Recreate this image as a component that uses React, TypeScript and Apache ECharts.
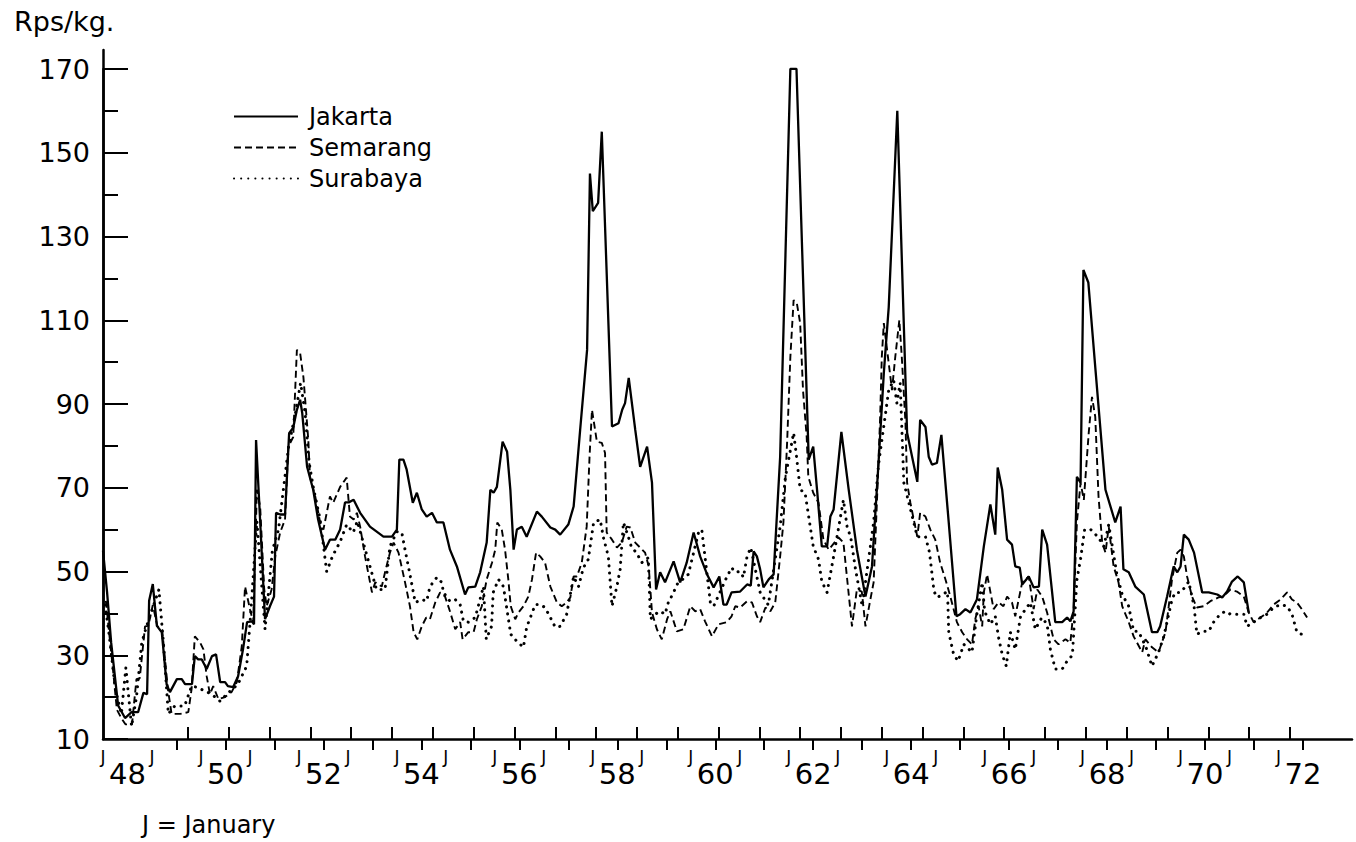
import React, { useEffect, useRef } from "react";
import * as echarts from "echarts";

// x = months since January 1948, y = Rps/kg.
const jakarta: [number, number][] = [
  [0, 55], [1, 45], [2, 33], [3.7, 18], [5.4, 15], [7, 16.4], [8.6, 16.4], [9.9, 21], [10.8, 20.7], [11.3, 43], [12.2, 47],
  [13.2, 37], [14.4, 35.5], [15.6, 23], [16.4, 21.2], [18.1, 24.3], [19.3, 24.3], [20.1, 23.1], [21.8, 23.1], [22.5, 29.8],
  [23.3, 29], [24.2, 29], [25.4, 26.7], [26.7, 29.8], [27.7, 30.2], [28.7, 23.6], [29.9, 23.6], [30.6, 22.6], [31.9, 22.4],
  [33.1, 25], [34.3, 31.4], [35.3, 37.9], [36.5, 38.1], [37, 37.4], [37.5, 81.4], [38.2, 67.9], [39.7, 38.6], [40.9, 41.7],
  [41.9, 44], [42.4, 64], [43.4, 63.6], [44.6, 63.6], [45.6, 83], [46.6, 84.3], [47.5, 88.6], [48.3, 91], [48.8, 87.9],
  [50, 75], [51.5, 69.5], [52.7, 62.4], [54.4, 55.2], [55.6, 57.6], [56.9, 57.6], [58.1, 60], [59.3, 66.5], [60.2, 66.5],
  [61.4, 67.1], [63, 64], [65.4, 60.7], [68.7, 58.3], [70.8, 58.3], [72, 60], [72.6, 76.7], [73.6, 76.7], [74.4, 74.3],
  [75.9, 66.4], [76.9, 68.8], [78.1, 64.8], [79.3, 63.1], [80.6, 64], [81.8, 61.7], [83.4, 61.7], [85, 55.2], [86.7, 51.2],
  [88.7, 44.5], [89.5, 46.2], [91.2, 46.4], [92.4, 49.8], [94, 56.9], [94.9, 69.5], [95.7, 68.8], [96.5, 70.2], [97.9, 81],
  [99, 78.6], [99.8, 69.5], [100.6, 55.2], [101.4, 60], [102.6, 60.7], [103.8, 58.3], [106.3, 64.3], [107.5, 63.1],
  [109.6, 60.5], [110.8, 60], [112, 58.8], [114, 61.2], [115.3, 65.5], [116.9, 83.8], [118.6, 102.9], [119.3, 145],
  [120, 136], [121.3, 138], [122.2, 155], [124.7, 84.6], [126.3, 85.4], [127.2, 88.6], [127.9, 90.2], [128.8, 96.2],
  [130.4, 83.8], [131.6, 75], [133.3, 79.8], [134.5, 71.2], [135.5, 45.7], [136.5, 49.8], [137.7, 47.4], [139.8, 52.4],
  [141.4, 47.4], [143, 52.1], [144.7, 59.3], [146.3, 53.6], [148, 49.3], [149.6, 46.2], [151, 48.8], [152, 42.1],
  [152.8, 42.1], [154, 45], [156.1, 45.2], [157.8, 46.9], [158.7, 46.6], [159.4, 54.8], [160.2, 53.6], [161, 50.5],
  [161.8, 46.2], [163.1, 48.1], [164.3, 49.3], [165.9, 77.4], [168.4, 170], [169.9, 170], [172.9, 76.7], [174, 79.8],
  [175, 68.8], [176.1, 56], [177.4, 56], [178.2, 63.1], [179, 64.8], [180.9, 83.3], [182.7, 69.5], [184.7, 55.2],
  [186.8, 44], [188.4, 51.2], [190, 75.9], [191.3, 97.4], [192.5, 113.1], [194.6, 160], [197, 83.1], [199.5, 71.4],
  [200.2, 86.2], [201.5, 84.5], [202.3, 77.4], [203.1, 75.5], [204.3, 75.9], [205.4, 82.6], [207.2, 61.7], [209.1, 39.3],
  [210, 39.8], [211.3, 41], [212.5, 40.2], [214.1, 43.3], [215.8, 56], [217.4, 66], [218.6, 58.8], [219.2, 74.8],
  [220.3, 69.5], [221.5, 57.6], [222.7, 56.4], [223.5, 51.2], [224.6, 50.9], [225.2, 46.9], [226.8, 48.8], [228, 46.2],
  [229.3, 46.4], [230.1, 60], [231.3, 56.4], [233.3, 37.9], [235, 37.9], [236.2, 39], [237, 38.1], [237.8, 40.5],
  [238.6, 72.6], [239.5, 71.2], [240.2, 122], [241.4, 119], [243.1, 98.8], [245.6, 69.5], [248, 61.7], [249.3, 65.5],
  [250, 50.5], [251.3, 49.8], [252.9, 46.4], [255, 44.5], [257, 35.5], [258.3, 35.5], [259, 36.9], [260.7, 44],
  [262.3, 51.2], [263.2, 49.8], [264, 51.2], [264.8, 58.8], [266, 57.6], [267.3, 54.5], [269.3, 45], [270.9, 45],
  [273, 44.5], [274.2, 43.8], [275.4, 45.2], [276.6, 47.6], [278, 48.8], [279.5, 47.4], [280.7, 40.2],
];

const semarang: [number, number][] = [
  [0.7, 43], [2.5, 26], [3.4, 17], [4.6, 14.8], [5.5, 13.5], [7.1, 13.5], [8.2, 24.3], [9, 24.5], [10.3, 36.9], [11.1, 37],
  [12.2, 42], [13.3, 37], [14.5, 36], [15.9, 21.9], [16.8, 16], [18.9, 16], [20.9, 16.4], [21.7, 21.9], [22.5, 34.5],
  [23.8, 33], [24.6, 31.4], [25.4, 25], [26.2, 20.7], [27, 22.6], [28.3, 19.5], [29.9, 20], [31.5, 21.2], [32.8, 23.6],
  [34, 32.1], [34.8, 46.4], [36, 41], [36.8, 37.9], [37.7, 69.5], [38.5, 65.5], [39.5, 45.7], [40.1, 41.7], [41.3, 45.7],
  [42.2, 53.6], [43.4, 59.3], [44.6, 62.4], [45.4, 79.8], [46.6, 82.1], [47.5, 102.9], [48.3, 102.1], [49.1, 96.4],
  [50.3, 81.4], [50.7, 72.6], [52, 67.9], [53.2, 61.7], [54, 60], [55.6, 67.9], [56.4, 66.4], [58.1, 70.2], [59.7, 72.4],
  [60.5, 63.1], [61.4, 62.4], [62.2, 64], [63, 60.7], [64.2, 53.6], [65.9, 45], [66.7, 47.4], [68.3, 46.4], [69.1, 49.8],
  [70.3, 54.5], [71.2, 56.9], [72.4, 54.5], [74, 47.4], [75.2, 41.7], [76.1, 35.5], [77, 33.8], [78.1, 36.9], [79.2, 39],
  [80.1, 38.6], [81.4, 42.6], [82.6, 45], [83.8, 44], [85, 40.5], [86.3, 36.2], [87.5, 37.9], [88.1, 33.8], [89.5, 35.5],
  [90.8, 35.5], [91.6, 38.6], [92.8, 41.7], [94, 48.1], [95.3, 52.1], [96.1, 55.2], [96.6, 61.7], [97.7, 60], [98.5, 55.2],
  [99.3, 48.1], [99.9, 41.7], [101, 38.6], [101.8, 40.2], [103, 41.7], [104.2, 44], [105.1, 48.1], [106.1, 54.5],
  [107.1, 53.6], [108.3, 52.1], [109.6, 46.4], [111.2, 42.6], [112.4, 41.7], [113.6, 42.6], [114.5, 43.8], [115.3, 48.8],
  [116.1, 48.8], [117.3, 52.1], [118.5, 60.7], [119.2, 77.4], [119.8, 88.6], [121, 81], [122.2, 80.7], [123, 78.3],
  [123.4, 59.3], [124.7, 57.6], [125.9, 55.7], [127.1, 56.9], [128.3, 60.7], [129.2, 60.5], [130.4, 56.9], [131.6, 55.7],
  [132.8, 54.5], [133.7, 51.2], [134.5, 40.2], [135.7, 36.2], [136.9, 33.8], [138.2, 38.6], [139, 40.5], [140.6, 35.7],
  [142.2, 36.2], [143.9, 41.7], [145.1, 40.5], [146.3, 41], [147.5, 38.1], [149.2, 34.5], [150.8, 37.4], [152.8, 37.9],
  [154, 39.3], [154.9, 41.7], [156.1, 41.4], [157.8, 42.9], [159, 42.6], [160.2, 39.3], [161, 37.9], [162.3, 41.4],
  [163.5, 40.5], [164.7, 42.6], [165.9, 53.6], [166.7, 61.7], [167.6, 80.7], [168.4, 101.2], [169.2, 114.8], [170, 114],
  [170.8, 109.3], [171.5, 93.3], [172.4, 82.1], [172.8, 72.6], [174, 68.8], [175.3, 66.4], [176.5, 57.6], [177.8, 55.2],
  [180.2, 58.1], [181.4, 56.9], [183.5, 36.9], [184.7, 45.7], [185.9, 45.2], [186.8, 36.9], [188, 43.3], [188.8, 47.4],
  [189.6, 66.4], [190.4, 86.9], [190.8, 101.2], [191.3, 109.3], [193.3, 93.3], [194.1, 101.2], [195.1, 110], [195.7, 101.2],
  [196.6, 85.5], [197, 71.2], [197.8, 66.4], [199.5, 58.3], [200.2, 64], [201.5, 63.1], [202.7, 60], [203.9, 57.6],
  [205.1, 52.1], [206.4, 48.1], [207.6, 44], [208.4, 41], [209.2, 37.9], [210.5, 35.5], [211.7, 33.8], [212.9, 32.6],
  [213.7, 38.6], [214.5, 41.7], [215.4, 36.9], [215.8, 45], [216.6, 49.3], [218.2, 41], [219.4, 42.6], [220.6, 41.7],
  [221.5, 44], [222.7, 42.6], [223.5, 39.3], [225.2, 47.4], [226.8, 48.8], [228, 41], [228.9, 45.7], [230.1, 44],
  [231.3, 40.2], [232.9, 33.8], [234.1, 32.6], [235.8, 33.8], [237, 33], [237.8, 41], [238.6, 61.7], [239.5, 71.2],
  [240.3, 67.1], [241.5, 83.1], [242.3, 91.7], [243.1, 86.9], [243.9, 67.9], [244.8, 56.9], [245.6, 54.5], [246.4, 60.7],
  [247.6, 51.2], [248.8, 47.4], [249.7, 41.7], [251.3, 37.9], [252.5, 34.5], [254.6, 30.7], [255.4, 33.8], [257, 31.9],
  [258.6, 30.7], [260.3, 35.5], [261.1, 41.7], [261.9, 48.1], [263.2, 54.5], [264, 55.2], [264.8, 53.6], [265.6, 48.8],
  [266.8, 44], [268, 41.4], [269.7, 41.7], [271.3, 42.9], [273.3, 43.8], [274.5, 44], [276.2, 45.7], [277.8, 45.2],
  [279.5, 44], [280.7, 40.2], [281.9, 37.9], [283.6, 39], [285.2, 40.2], [286.8, 42.1], [288.5, 43.3], [290.1, 45],
  [291.3, 43.3], [292.5, 42.6], [293.7, 41], [295, 39],
];

const surabaya: [number, number][] = [
  [0.5, 42], [1.5, 35], [3, 22], [4.5, 16], [5.6, 27], [7, 13], [8.2, 20], [9.5, 33], [10.7, 37], [13.7, 45.7], [14.8, 33],
  [16, 16], [17.6, 17.9], [20, 17.9], [21.7, 22.6], [22.9, 22.4], [26.6, 20.7], [28.7, 19], [30.3, 20.7], [33, 23],
  [34, 25], [35.2, 27.4], [36.2, 40], [37.7, 62], [39.7, 36.2], [41.5, 55], [43, 60], [45.5, 80], [47.2, 88], [48.4, 95],
  [49.5, 88], [50.5, 76], [51.5, 70.2], [53.2, 62.4], [54.8, 50], [56.3, 53.8], [58.1, 57.1], [59.7, 61.2], [61.3, 59.3],
  [62.3, 62], [63.7, 57.1], [67, 45.7], [69.1, 45.7], [70.3, 56], [72, 59.5], [73.2, 59.3], [74, 55.2], [75.2, 49.3],
  [76.5, 42.6], [78.1, 43.3], [79.3, 42.9], [80.1, 46.4], [81.8, 48.6], [83, 47.4], [83.4, 45], [85, 42.9], [86.3, 43.3],
  [87.5, 42.1], [88.3, 38.1], [89.5, 37.9], [91.2, 39], [93.2, 46.4], [93.9, 33.8], [95.2, 36.9], [95.6, 45], [96.9, 48.1],
  [98.1, 46.4], [99.9, 35], [101.4, 33.3], [103, 31.9], [103.8, 36.7], [104.7, 39], [105.9, 42.1], [107.1, 42.1],
  [108.3, 41.4], [109.6, 39], [110.8, 36.7], [112, 36.9], [113.6, 39.8], [115.3, 48.8], [116.5, 46.4], [117.7, 50.9],
  [118.9, 52.9], [120.2, 61.7], [121.8, 62.4], [122.6, 58.1], [123.8, 53.6], [124.7, 41.7], [125.9, 46.4], [126.7, 50.5],
  [127.5, 61.7], [128.7, 58.3], [129.5, 55.7], [130.7, 54.5], [132, 52.1], [133.6, 53.3], [134.1, 38.6], [135.3, 39.8],
  [136.5, 40.5], [137.7, 39.8], [138.5, 42.6], [139.8, 45], [140.6, 46.9], [143.4, 49.3], [144.7, 54.5], [145.9, 59.3],
  [146.7, 60], [148.8, 42.6], [149.6, 41.7], [152.8, 48.6], [154, 50.9], [154.9, 49.8], [156.1, 50], [156.9, 48.6],
  [157.8, 53.6], [158.7, 55.7], [161, 45], [163, 42], [165.9, 60.7], [167.2, 72.6], [169.2, 83.1], [170, 76.7],
  [170.8, 69.5], [172, 68.8], [174, 56], [175.3, 52.9], [176.1, 47.6], [177.4, 45], [179, 53.6], [181.4, 67.1],
  [182.3, 60.7], [183.2, 58.1], [184.3, 50.9], [186, 41.7], [188.8, 61.7], [190, 75.5], [192.5, 93.3], [193.7, 95.7],
  [194.5, 90.2], [195.3, 95], [196.2, 71.2], [199.5, 58.3], [201.5, 58.3], [202.5, 54.5], [203.6, 45.2], [204.4, 43.8],
  [206.9, 45.2], [207.2, 35.5], [208.4, 30.2], [209.5, 28.6], [210.9, 32.6], [212.9, 30.7], [214.1, 39.8], [215.4, 47.4],
  [216, 40.5], [217.4, 37.4], [218.6, 39.3], [219.4, 34.3], [220.3, 30.2], [221.3, 27.4], [222.3, 35.5], [223.5, 31.4],
  [224.8, 39.3], [227.2, 42.6], [228.4, 36.2], [230, 39], [231.3, 37.4], [232.1, 31.4], [233.3, 26.7], [235, 26.7],
  [236.2, 28.6], [237.5, 30], [238.6, 48], [239.5, 53], [240.5, 60], [242, 60], [243.9, 58.1], [245.2, 56], [246.4, 61.2],
  [248.4, 49.3], [249.7, 44.5], [251.3, 41.7], [252.5, 35.7], [253.7, 35.7], [255.5, 32], [257, 27.4], [258.6, 30.7],
  [259.9, 34.5], [261.1, 39.8], [261.9, 43.3], [262.7, 45], [264, 45], [265.2, 46.4], [266, 47.6], [267.3, 41.7],
  [268, 35], [269.3, 35.7], [270.9, 35.7], [272.1, 37.9], [273.7, 39.8], [275, 40.5], [276.2, 39.8], [279.5, 39.8],
  [280.3, 36.9], [281.9, 37.9], [283.6, 39], [285.2, 39.8], [286.8, 41.4], [288.5, 42.1], [290.1, 41.7], [291.3, 39.8],
  [292.5, 35.5], [293.7, 35],
];

const seriesNames = ["Jakarta", "Semarang", "Surabaya"];
const yearLabels = ["48", "50", "52", "54", "56", "58", "60", "62", "64", "66", "68", "70", "72"];
const januaryLabel = "J";
const yTitle = "Rps/kg.";
const footNote = "J = January";

const FONT = "DejaVu Sans";
const X0 = 103;
const X1 = 1352;
const X_MAX = 306;
const PXM = (X1 - X0) / X_MAX;
const BOTTOM = 103;

export default function App() {
  const ref = useRef<HTMLDivElement>(null);
  useEffect(() => {
    const chart = echarts.init(ref.current!, null, { renderer: "svg" });
    const black = "#000";
    const hidden = { show: false };
    const option: any = {
      animation: false,
      backgroundColor: "#fff",
      textStyle: { fontFamily: FONT },
      grid: [
        { left: X0, right: 1356 - X1, top: 50, bottom: BOTTOM },
        { left: X0, width: 60, top: 69, bottom: BOTTOM },
        { left: X0 + 20.8 * PXM, width: 270 * PXM, top: 600, bottom: BOTTOM },
        { left: X0 + 18 * PXM, width: 276 * PXM, top: 600, bottom: BOTTOM },
        { left: X0, width: 288 * PXM, top: 600, bottom: BOTTOM },
        { left: X0 + 6 * PXM, width: 288 * PXM, top: 600, bottom: BOTTOM },
        { left: X0, width: 60, top: 69, bottom: BOTTOM },
      ],
      xAxis: [
        {
          gridIndex: 0, type: "value", min: 0, max: X_MAX,
          axisLine: { show: true, lineStyle: { color: black, width: 2.5 } },
          axisTick: hidden, axisLabel: hidden, splitLine: hidden,
        },
        { gridIndex: 1, type: "value", min: 0, max: 1, show: false },
        {
          gridIndex: 2, type: "value", min: 0, max: 270, interval: 10,
          axisLine: hidden, axisLabel: hidden, splitLine: hidden,
          axisTick: { show: true, inside: true, length: 12, lineStyle: { color: black, width: 2 } },
        },
        {
          gridIndex: 3, type: "value", min: 18, max: 294, interval: 12,
          axisLine: hidden, axisLabel: hidden, splitLine: hidden,
          axisTick: { show: true, inside: false, length: 11, lineStyle: { color: black, width: 2 } },
        },
        {
          gridIndex: 4, type: "value", min: 0, max: 288, interval: 12,
          axisLine: hidden, axisTick: hidden, splitLine: hidden,
          axisLabel: { show: true, margin: 9, fontSize: 17, color: black, fontFamily: FONT, formatter: () => januaryLabel },
        },
        {
          gridIndex: 5, type: "value", min: 6, max: 294, interval: 24,
          axisLine: hidden, axisTick: hidden, splitLine: hidden,
          axisLabel: {
            show: true, margin: 20, fontSize: 29, color: black, fontFamily: FONT,
            formatter: (v: number) => yearLabels[Math.round((v - 6) / 24)] ?? "",
          },
        },
        { gridIndex: 6, type: "value", min: 0, max: 1, show: false },
      ],
      yAxis: [
        {
          gridIndex: 0, type: "value", min: 10, max: 174.5,
          axisLine: { show: true, lineStyle: { color: black, width: 2.5 } },
          axisTick: hidden, axisLabel: hidden, splitLine: hidden,
        },
        {
          gridIndex: 1, type: "value", position: "left", offset: 0, min: 10, max: 170, interval: 20,
          axisLine: { show: true, lineStyle: { color: black, width: 2.5 } }, splitLine: hidden,
          axisTick: { show: true, inside: true, length: 25, lineStyle: { color: black, width: 2 } },
          axisLabel: { show: true, margin: 13, fontSize: 27, color: black, fontFamily: FONT },
        },
        { gridIndex: 2, type: "value", show: false },
        { gridIndex: 3, type: "value", show: false },
        { gridIndex: 4, type: "value", show: false },
        { gridIndex: 5, type: "value", show: false },
        {
          gridIndex: 6, type: "value", position: "left", offset: 0, min: 10, max: 170, interval: 10,
          axisLine: hidden, splitLine: hidden, axisLabel: hidden,
          axisTick: { show: true, inside: true, length: 15, lineStyle: { color: black, width: 2 } },
        },
      ],
      legend: {
        left: 228, top: 98, orient: "vertical", itemWidth: 64, itemHeight: 14, itemGap: 4,
        itemStyle: { color: "rgba(0,0,0,0)", borderWidth: 0, opacity: 0 },
        textStyle: { fontSize: 24, color: black, fontFamily: FONT, lineHeight: 27, padding: [0, 0, 0, 6] },
        data: seriesNames,
      },
      graphic: [
        { type: "text", left: 14, top: 8, style: { text: yTitle, fontSize: 27, fill: black, fontFamily: FONT } },
        { type: "text", left: 142, top: 813, style: { text: footNote, fontSize: 24, fill: black, fontFamily: FONT } },
      ],
      series: [
        {
          name: seriesNames[0], type: "line", xAxisIndex: 0, yAxisIndex: 0, data: jakarta,
          symbol: "none", showSymbol: false, lineStyle: { color: black, width: 2.3, type: "solid" }, itemStyle: { color: black },
        },
        {
          name: seriesNames[1], type: "line", xAxisIndex: 0, yAxisIndex: 0, data: semarang,
          symbol: "none", showSymbol: false, lineStyle: { color: black, width: 1.9, type: [7, 4] }, itemStyle: { color: black },
        },
        {
          name: seriesNames[2], type: "line", xAxisIndex: 0, yAxisIndex: 0, data: surabaya,
          symbol: "none", showSymbol: false,
          lineStyle: { color: black, width: 3, type: [0.1, 7], cap: "round" }, itemStyle: { color: black },
        },
      ],
    };
    chart.setOption(option);
    return () => chart.dispose();
  }, []);
  return (
    <div
      ref={ref}
      style={{ position: "fixed", left: 0, top: 0, width: 1356, height: 842, background: "#fff" }}
    />
  );
}
